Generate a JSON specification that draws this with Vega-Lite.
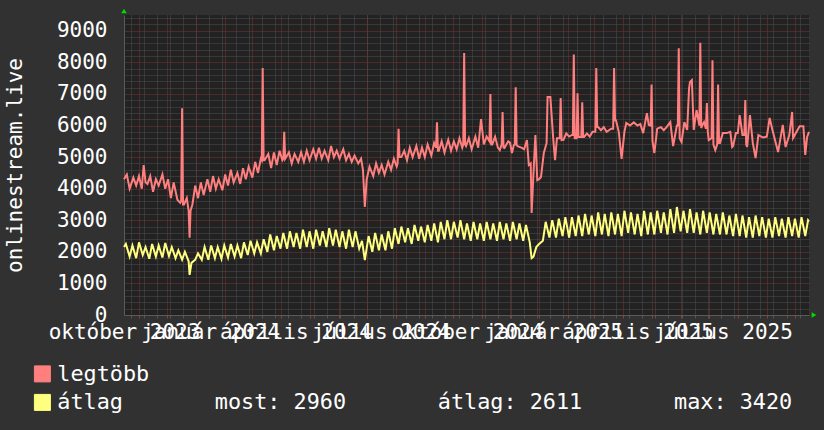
{
"$schema": "https://vega.github.io/schema/vega-lite/v6.json",
"width": 685, "height": 300,
"autosize": {"type": "none"},
"padding": {"left": 124, "top": 15, "right": 15, "bottom": 115},
"background": "#313131",
"config": {"view": {"fill": "#222222", "stroke": null}, "font": "DejaVu Sans Mono"},
"datasets": {
"maxv": [{"day":0,"v":4300},{"day":3,"v":4450},{"day":6,"v":4000},{"day":10,"v":4350},{"day":13,"v":4100},{"day":16,"v":4400},{"day":19,"v":4000},{"day":21,"v":4750},{"day":23,"v":4200},{"day":25,"v":4150},{"day":28,"v":4400},{"day":31,"v":3900},{"day":34,"v":4300},{"day":37,"v":4100},{"day":41,"v":4450},{"day":44,"v":4000},{"day":47,"v":4300},{"day":50,"v":3700},{"day":53,"v":4200},{"day":57,"v":3650},{"day":60,"v":3550},{"day":61,"v":3600},{"day":62,"v":6550},{"day":63,"v":3500},{"day":64,"v":3500},{"day":67,"v":3700},{"day":69,"v":3300},{"day":70,"v":2450},{"day":71,"v":3300},{"day":73,"v":3500},{"day":76,"v":4100},{"day":79,"v":3700},{"day":82,"v":4200},{"day":85,"v":3800},{"day":89,"v":4300},{"day":92,"v":3900},{"day":95,"v":4400},{"day":98,"v":4000},{"day":101,"v":4300},{"day":105,"v":3950},{"day":108,"v":4450},{"day":111,"v":4100},{"day":114,"v":4600},{"day":117,"v":4200},{"day":121,"v":4500},{"day":124,"v":4150},{"day":127,"v":4650},{"day":130,"v":4300},{"day":133,"v":4700},{"day":137,"v":4350},{"day":140,"v":4850},{"day":143,"v":4500},{"day":146,"v":4950},{"day":147,"v":4900},{"day":148,"v":7820},{"day":149,"v":4900},{"day":150,"v":4900},{"day":154,"v":5100},{"day":157,"v":4650},{"day":160,"v":5150},{"day":163,"v":4750},{"day":166,"v":5200},{"day":169,"v":4900},{"day":170,"v":4950},{"day":171,"v":5800},{"day":172,"v":4950},{"day":176,"v":5150},{"day":179,"v":4800},{"day":182,"v":5100},{"day":186,"v":4850},{"day":189,"v":5150},{"day":192,"v":4850},{"day":195,"v":5200},{"day":198,"v":4900},{"day":202,"v":5250},{"day":205,"v":4950},{"day":208,"v":5300},{"day":211,"v":4950},{"day":214,"v":5200},{"day":218,"v":4900},{"day":221,"v":5350},{"day":224,"v":5000},{"day":227,"v":5200},{"day":230,"v":4950},{"day":234,"v":5250},{"day":237,"v":4900},{"day":240,"v":5100},{"day":243,"v":4850},{"day":246,"v":5050},{"day":250,"v":4800},{"day":253,"v":4950},{"day":255,"v":4600},{"day":257,"v":3420},{"day":259,"v":4300},{"day":262,"v":4700},{"day":266,"v":4400},{"day":269,"v":4800},{"day":272,"v":4500},{"day":275,"v":4750},{"day":278,"v":4450},{"day":282,"v":4850},{"day":285,"v":4600},{"day":288,"v":4950},{"day":291,"v":4700},{"day":292,"v":4800},{"day":293,"v":5900},{"day":294,"v":5000},{"day":296,"v":5000},{"day":299,"v":5200},{"day":302,"v":4900},{"day":305,"v":5300},{"day":308,"v":5000},{"day":312,"v":5350},{"day":315,"v":4950},{"day":318,"v":5300},{"day":321,"v":5000},{"day":324,"v":5400},{"day":328,"v":5050},{"day":331,"v":5450},{"day":333,"v":5300},{"day":334,"v":6100},{"day":335,"v":5200},{"day":336,"v":5200},{"day":339,"v":5500},{"day":342,"v":5150},{"day":346,"v":5550},{"day":349,"v":5200},{"day":352,"v":5500},{"day":355,"v":5250},{"day":358,"v":5600},{"day":361,"v":5300},{"day":362,"v":5400},{"day":363,"v":8300},{"day":364,"v":5400},{"day":365,"v":5350},{"day":368,"v":5600},{"day":371,"v":5250},{"day":375,"v":5650},{"day":378,"v":5300},{"day":381,"v":6200},{"day":384,"v":5400},{"day":387,"v":5650},{"day":390,"v":5500},{"day":391,"v":7000},{"day":392,"v":5400},{"day":393,"v":5400},{"day":396,"v":5650},{"day":399,"v":5300},{"day":401,"v":5220},{"day":403,"v":5400},{"day":404,"v":6430},{"day":405,"v":5300},{"day":406,"v":5290},{"day":410,"v":5500},{"day":412,"v":5450},{"day":414,"v":5130},{"day":416,"v":5380},{"day":417,"v":5400},{"day":418,"v":7210},{"day":419,"v":5380},{"day":420,"v":5350},{"day":424,"v":5300},{"day":427,"v":5250},{"day":430,"v":5540},{"day":432,"v":4750},{"day":434,"v":4800},{"day":435,"v":3230},{"day":437,"v":4500},{"day":439,"v":5700},{"day":441,"v":4270},{"day":443,"v":4300},{"day":445,"v":4370},{"day":448,"v":5130},{"day":451,"v":5450},{"day":452,"v":6900},{"day":455,"v":6900},{"day":458,"v":5600},{"day":460,"v":4900},{"day":462,"v":5600},{"day":465,"v":5600},{"day":466,"v":6870},{"day":467,"v":5540},{"day":469,"v":5550},{"day":472,"v":5750},{"day":475,"v":5650},{"day":478,"v":5700},{"day":479,"v":5700},{"day":480,"v":8250},{"day":481,"v":5600},{"day":482,"v":5600},{"day":483,"v":5600},{"day":484,"v":7020},{"day":485,"v":5640},{"day":486,"v":5640},{"day":488,"v":5640},{"day":489,"v":6740},{"day":490,"v":5640},{"day":491,"v":5640},{"day":494,"v":5750},{"day":497,"v":5650},{"day":500,"v":5800},{"day":503,"v":5800},{"day":504,"v":7820},{"day":505,"v":5950},{"day":506,"v":5950},{"day":509,"v":5850},{"day":512,"v":5950},{"day":515,"v":5800},{"day":520,"v":5900},{"day":522,"v":5900},{"day":523,"v":7820},{"day":524,"v":6170},{"day":525,"v":6170},{"day":528,"v":5800},{"day":531,"v":4940},{"day":534,"v":5800},{"day":536,"v":6080},{"day":540,"v":6000},{"day":544,"v":6100},{"day":548,"v":6000},{"day":551,"v":6050},{"day":554,"v":5760},{"day":558,"v":6390},{"day":560,"v":6020},{"day":562,"v":6000},{"day":563,"v":7300},{"day":564,"v":5500},{"day":566,"v":5130},{"day":569,"v":5900},{"day":573,"v":5950},{"day":576,"v":5850},{"day":579,"v":5950},{"day":583,"v":6110},{"day":586,"v":5350},{"day":590,"v":6000},{"day":591,"v":6000},{"day":592,"v":8450},{"day":593,"v":5600},{"day":595,"v":5480},{"day":598,"v":6110},{"day":601,"v":5860},{"day":603,"v":7180},{"day":604,"v":7380},{"day":606,"v":7440},{"day":608,"v":5860},{"day":611,"v":6490},{"day":614,"v":6000},{"day":615,"v":8620},{"day":616,"v":5920},{"day":617,"v":6000},{"day":619,"v":6110},{"day":621,"v":5900},{"day":622,"v":6710},{"day":623,"v":5800},{"day":624,"v":5540},{"day":627,"v":5600},{"day":628,"v":8070},{"day":629,"v":5400},{"day":631,"v":5220},{"day":633,"v":5400},{"day":634,"v":7300},{"day":635,"v":5450},{"day":636,"v":5450},{"day":639,"v":5760},{"day":643,"v":5760},{"day":647,"v":5800},{"day":649,"v":5320},{"day":650,"v":5350},{"day":653,"v":5760},{"day":655,"v":5760},{"day":657,"v":6330},{"day":660,"v":5700},{"day":662,"v":5700},{"day":663,"v":6810},{"day":664,"v":5400},{"day":665,"v":5320},{"day":668,"v":6330},{"day":671,"v":5450},{"day":674,"v":4970},{"day":677,"v":5700},{"day":682,"v":5620},{"day":686,"v":5650},{"day":689,"v":6240},{"day":692,"v":5860},{"day":698,"v":5160},{"day":703,"v":6020},{"day":706,"v":5320},{"day":710,"v":5700},{"day":713,"v":6430},{"day":714,"v":5600},{"day":717,"v":5760},{"day":721,"v":5980},{"day":725,"v":5980},{"day":727,"v":5070},{"day":729,"v":5640},{"day":731,"v":5800}],
"avgv": [{"day":0,"v":2150},{"day":2,"v":2250},{"day":6,"v":1850},{"day":9,"v":2200},{"day":13,"v":1800},{"day":16,"v":2300},{"day":20,"v":1900},{"day":23,"v":2150},{"day":27,"v":1780},{"day":30,"v":2250},{"day":34,"v":1850},{"day":37,"v":2200},{"day":41,"v":1820},{"day":44,"v":2280},{"day":48,"v":1870},{"day":51,"v":2150},{"day":55,"v":1800},{"day":58,"v":2050},{"day":62,"v":1750},{"day":65,"v":2000},{"day":69,"v":1700},{"day":70,"v":1270},{"day":72,"v":1650},{"day":76,"v":1750},{"day":79,"v":1950},{"day":83,"v":1750},{"day":86,"v":2150},{"day":90,"v":1750},{"day":93,"v":2200},{"day":97,"v":1800},{"day":100,"v":2150},{"day":104,"v":1780},{"day":107,"v":2200},{"day":111,"v":1820},{"day":114,"v":2250},{"day":118,"v":1850},{"day":121,"v":2200},{"day":125,"v":1800},{"day":128,"v":2300},{"day":132,"v":1900},{"day":135,"v":2350},{"day":139,"v":1950},{"day":142,"v":2300},{"day":146,"v":1950},{"day":149,"v":2400},{"day":153,"v":2000},{"day":156,"v":2550},{"day":160,"v":2050},{"day":163,"v":2500},{"day":167,"v":2100},{"day":170,"v":2600},{"day":174,"v":2100},{"day":177,"v":2650},{"day":181,"v":2150},{"day":184,"v":2600},{"day":188,"v":2100},{"day":191,"v":2700},{"day":195,"v":2150},{"day":198,"v":2650},{"day":202,"v":2100},{"day":205,"v":2700},{"day":209,"v":2200},{"day":212,"v":2650},{"day":216,"v":2150},{"day":219,"v":2750},{"day":223,"v":2200},{"day":226,"v":2700},{"day":230,"v":2150},{"day":233,"v":2650},{"day":237,"v":2100},{"day":240,"v":2700},{"day":244,"v":2150},{"day":247,"v":2650},{"day":251,"v":2100},{"day":254,"v":2350},{"day":257,"v":1740},{"day":261,"v":2500},{"day":265,"v":2000},{"day":268,"v":2600},{"day":272,"v":2050},{"day":275,"v":2550},{"day":279,"v":2050},{"day":282,"v":2650},{"day":286,"v":2100},{"day":289,"v":2750},{"day":293,"v":2250},{"day":296,"v":2800},{"day":300,"v":2300},{"day":303,"v":2750},{"day":307,"v":2250},{"day":310,"v":2850},{"day":314,"v":2350},{"day":317,"v":2800},{"day":321,"v":2300},{"day":324,"v":2850},{"day":328,"v":2350},{"day":331,"v":2900},{"day":335,"v":2300},{"day":338,"v":2950},{"day":342,"v":2400},{"day":345,"v":3000},{"day":349,"v":2400},{"day":352,"v":2950},{"day":356,"v":2450},{"day":359,"v":3000},{"day":363,"v":2400},{"day":366,"v":2900},{"day":370,"v":2350},{"day":373,"v":2950},{"day":377,"v":2400},{"day":380,"v":2900},{"day":384,"v":2350},{"day":387,"v":2950},{"day":391,"v":2400},{"day":394,"v":2900},{"day":398,"v":2350},{"day":401,"v":2950},{"day":405,"v":2400},{"day":408,"v":2900},{"day":412,"v":2350},{"day":415,"v":2950},{"day":419,"v":2400},{"day":422,"v":2900},{"day":426,"v":2350},{"day":429,"v":2850},{"day":433,"v":2300},{"day":435,"v":1800},{"day":437,"v":1850},{"day":440,"v":2150},{"day":443,"v":2250},{"day":447,"v":2350},{"day":450,"v":2950},{"day":454,"v":2450},{"day":457,"v":3000},{"day":461,"v":2450},{"day":464,"v":3050},{"day":468,"v":2500},{"day":471,"v":3100},{"day":475,"v":2450},{"day":478,"v":3100},{"day":482,"v":2500},{"day":485,"v":3150},{"day":489,"v":2500},{"day":492,"v":3200},{"day":496,"v":2550},{"day":499,"v":3150},{"day":503,"v":2500},{"day":506,"v":3250},{"day":510,"v":2550},{"day":513,"v":3200},{"day":517,"v":2500},{"day":520,"v":3250},{"day":524,"v":2550},{"day":527,"v":3200},{"day":531,"v":2500},{"day":534,"v":3300},{"day":538,"v":2600},{"day":541,"v":3250},{"day":545,"v":2550},{"day":548,"v":3200},{"day":552,"v":2500},{"day":555,"v":3300},{"day":559,"v":2550},{"day":562,"v":3250},{"day":566,"v":2550},{"day":569,"v":3300},{"day":573,"v":2600},{"day":576,"v":3250},{"day":580,"v":2550},{"day":583,"v":3350},{"day":587,"v":2600},{"day":590,"v":3420},{"day":594,"v":2650},{"day":597,"v":3300},{"day":601,"v":2600},{"day":604,"v":3350},{"day":608,"v":2600},{"day":611,"v":3250},{"day":615,"v":2550},{"day":618,"v":3300},{"day":622,"v":2600},{"day":625,"v":3250},{"day":629,"v":2550},{"day":632,"v":3200},{"day":636,"v":2550},{"day":639,"v":3250},{"day":643,"v":2550},{"day":646,"v":3150},{"day":650,"v":2500},{"day":653,"v":3200},{"day":657,"v":2500},{"day":660,"v":3150},{"day":664,"v":2450},{"day":667,"v":3100},{"day":671,"v":2450},{"day":674,"v":3150},{"day":678,"v":2500},{"day":681,"v":3100},{"day":685,"v":2450},{"day":688,"v":3050},{"day":692,"v":2450},{"day":695,"v":3100},{"day":699,"v":2500},{"day":702,"v":3050},{"day":706,"v":2450},{"day":709,"v":3100},{"day":713,"v":2500},{"day":716,"v":3050},{"day":720,"v":2450},{"day":723,"v":3100},{"day":727,"v":2500},{"day":730,"v":3000},{"day":731,"v":2960}],
"up": [{"day":0,"v":9500}],
"right": [{"day":731,"v":0}]
},
"resolve": {"axis": {"x": "independent", "y": "independent"}},
"layer": [
{"data": {"name": "maxv"},
 "mark": {"type": "line", "strokeWidth": 2},
 "encoding": {
  "x": {"field": "day", "type": "quantitative", "scale": {"domain": [0, 731], "nice": false, "zero": false},
    "axis": {"orient": "bottom", "title": null, "values": [7,21,35,49,63,77,91,105,119,133,147,161,175,189,203,217,231,245,259,273,287,301,315,329,343,357,371,385,399,413,427,441,455,469,483,497,511,525,539,553,567,581,595,609,623,637,651,665,679,693,707,721],
      "grid": true, "gridColor": "#4e4e4e", "gridDash": [1, 1], "labels": false, "ticks": true, "tickColor": "#555555", "tickSize": 3, "domain": false}},
  "y": {"field": "v", "type": "quantitative", "scale": {"domain": [0, 9500], "nice": false},
    "axis": {"orient": "left", "title": null, "values": [200,400,600,800,1200,1400,1600,1800,2200,2400,2600,2800,3200,3400,3600,3800,4200,4400,4600,4800,5200,5400,5600,5800,6200,6400,6600,6800,7200,7400,7600,7800,8200,8400,8600,8800,9200,9400],
      "grid": true, "gridColor": "#4e4e4e", "gridDash": [1, 1], "labels": false, "ticks": false, "domain": false}},
  "color": {"datum": "legtöbb", "type": "nominal",
    "scale": {"domain": ["legtöbb", "átlag"], "range": ["#ff7f7f", "#ffff7f"]},
    "legend": {"orient": "none", "legendX": -92.5, "legendY": 348, "direction": "vertical", "title": null, "padding": 0,
      "symbolType": "square", "symbolSize": 256, "symbolStrokeWidth": 1, "labelFont": "DejaVu Sans Mono", "labelFontSize": 21.8,
      "labelColor": "#ffffff", "labelLimit": 1000, "labelOffset": 4, "rowPadding": 5.5,
      "labelExpr": "datum.label == 'átlag' ? 'átlag\u00a0\u00a0\u00a0\u00a0\u00a0\u00a0\u00a0most: 2960\u00a0\u00a0\u00a0\u00a0\u00a0\u00a0\u00a0átlag: 2611\u00a0\u00a0\u00a0\u00a0\u00a0\u00a0\u00a0max: 3420' : datum.label",
      "encode": {"symbols": {"update": {"fill": {"scale": "color", "field": "value"}, "stroke": {"value": "#000000"}, "strokeWidth": {"value": 1}, "opacity": {"value": 1}}}}}}
 }},
{"data": {"name": "avgv"},
 "mark": {"type": "line", "strokeWidth": 2},
 "encoding": {
  "x": {"field": "day", "type": "quantitative",
    "axis": {"orient": "bottom", "title": null, "values": [16,46,77,108,137,168,198,229,259,290,321,351,382,412,443,474,502,533,563,594,624,655,686,716],
      "grid": true, "gridColor": "#7a3232", "gridDash": [1, 1], "labels": false, "ticks": true, "tickColor": "#9a3a3a", "tickSize": 3, "domain": true, "domainColor": "#5a5a5a"}},
  "y": {"field": "v", "type": "quantitative",
    "axis": {"orient": "left", "values": [0,1000,2000,3000,4000,5000,6000,7000,8000,9000], "format": "d",
      "grid": true, "gridColor": "#7a3232", "gridDash": [1, 1], "ticks": false, "tickSize": 0, "domain": true, "domainColor": "#5a5a5a",
      "labels": true, "labelFont": "DejaVu Sans Mono", "labelFontSize": 21, "labelColor": "#ffffff", "labelPadding": 17, "labelOverlap": false, "labelFlush": false,
      "title": "onlinestream.live", "titleFont": "DejaVu Sans Mono", "titleFontSize": 21, "titleFontWeight": "normal", "titleColor": "#ffffff",
      "titleX": -103, "titleY": 150, "titleAngle": -90, "titleAlign": "center", "titleBaseline": "alphabetic"}},
  "color": {"datum": "átlag", "type": "nominal"}
 }},
{"data": {"name": "up"},
 "mark": {"type": "point", "shape": "triangle-up", "filled": true, "size": 30, "color": "#00dd00", "opacity": 1, "yOffset": -4},
 "encoding": {
  "x": {"field": "day", "type": "quantitative",
    "axis": {"orient": "bottom", "title": null, "values": [0,92,183,274,366,458,548,639],
      "labelExpr": "['október 2023','január 2024','április 2024','július 2024','október 2024','január 2025','április 2025','július 2025'][indexof([0,92,183,274,366,458,548,639], datum.value)]",
      "grid": false, "ticks": false, "tickSize": 0, "domain": false, "labelFlush": false, "labelOverlap": false, "labelBound": false,
      "labelPadding": 6, "labelFont": "DejaVu Sans Mono", "labelFontSize": 21, "labelColor": "#ffffff"}},
  "y": {"field": "v", "type": "quantitative", "axis": null}
 }},
{"data": {"name": "right"},
 "mark": {"type": "point", "shape": "triangle-right", "filled": true, "size": 30, "color": "#00dd00", "opacity": 1, "xOffset": 5},
 "encoding": {
  "x": {"field": "day", "type": "quantitative", "axis": null},
  "y": {"field": "v", "type": "quantitative", "axis": null}
 }}
]
}
